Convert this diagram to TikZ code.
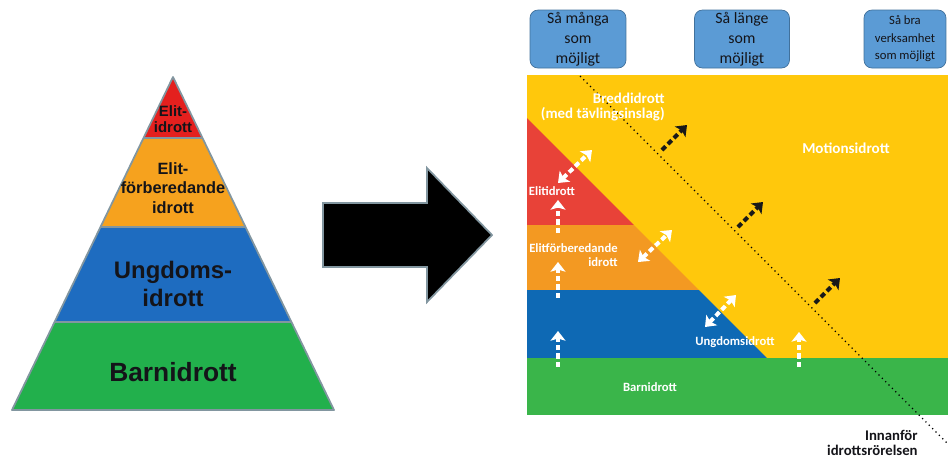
\documentclass[tikz,border=0pt]{standalone}
\usepackage{fontspec}
\setmainfont{Carlito}
\newfontfamily\arialfont{Liberation Sans}
\usetikzlibrary{arrows.meta,positioning}

\definecolor{pyrred}{RGB}{228,32,30}
\definecolor{pyrorange}{RGB}{246,162,30}
\definecolor{pyrblue}{RGB}{30,108,192}
\definecolor{pyrgreen}{RGB}{34,176,76}
\definecolor{pyrline}{RGB}{130,150,160}
\definecolor{pyrink}{RGB}{20,20,25}
\definecolor{elred}{RGB}{232,66,56}
\definecolor{elorange}{RGB}{243,153,34}
\definecolor{elblue}{RGB}{14,105,180}
\definecolor{elgreen}{RGB}{58,181,74}
\definecolor{elyellow}{RGB}{255,200,12}
\definecolor{goalfill}{RGB}{91,155,213}
\definecolor{goalline}{RGB}{65,113,156}

\tikzset{
  pyrtext/.style={font=\arialfont\bfseries, text=pyrink, align=center, inner sep=0},
  goalbox/.style={draw=goalline, fill=goalfill, rounded corners=0.16cm, inner sep=0,
    minimum height=1.16cm, align=center, text=pyrink},
  whitelbl/.style={font=\bfseries\fontsize{7.2}{8.4}\selectfont, text=white, inner sep=0},
  uparrow/.style={draw=white, line width=2.3pt, dash pattern=on 3pt off 1.8pt,
    -{Stealth[length=5.5pt,width=8.5pt,inset=1.2pt]}},
  twoarrow/.style={draw=white, line width=2.3pt, dash pattern=on 3pt off 1.8pt,
    {Stealth[length=5.5pt,width=8.5pt,inset=1.2pt]}-{Stealth[length=5.5pt,width=8.5pt,inset=1.2pt]}},
  outarrow/.style={draw=black!90, line width=2.3pt, dash pattern=on 3pt off 1.8pt,
    -{Stealth[length=5.5pt,width=8.5pt,inset=1.2pt]}}
}

\begin{document}
\begin{tikzpicture}[x=0.02cm,y=-0.02cm]
\useasboundingbox (0,0) rectangle (948,458);

% pyramid
\coordinate (apex) at (173,77);
\coordinate (bl) at (12,410);
\coordinate (br) at (334,410);
\begin{scope}
  \clip (apex) -- (bl) -- (br) -- cycle;
  \fill[pyrred] (0,70) rectangle (350,138);
  \fill[pyrorange] (0,138) rectangle (350,227);
  \fill[pyrblue] (0,227) rectangle (350,322);
  \fill[pyrgreen] (0,322) rectangle (350,412);
  \draw[pyrline, line width=1pt] (0,138) -- (350,138) (0,227) -- (350,227) (0,322) -- (350,322);
\end{scope}
\draw[pyrline, line width=1pt, line join=round] (apex) -- (bl) -- (br) -- cycle;

\node[pyrtext, font=\arialfont\bfseries\fontsize{8.5}{9.5}\selectfont] (toptext) at (173,119) {Elit-\\idrott};
\node[pyrtext, font=\arialfont\bfseries\fontsize{9.3}{11}\selectfont] (elitforbtext) at (173,188) {Elit-\\förberedande\\idrott};
\node[pyrtext, font=\arialfont\bfseries\fontsize{13.6}{15.9}\selectfont] (ungtext) at (173,284) {Ungdoms-\\idrott};
\node[pyrtext, font=\arialfont\bfseries\fontsize{15}{17}\selectfont] (barntext) at (173,372) {Barnidrott};

% big arrow
\draw[fill=black, draw=pyrline, line width=1pt]
  (323,203) -- (427,203) -- (427,168) -- (492,235) -- (427,302) -- (427,267) -- (323,267) -- cycle;

% goal boxes
\node[goalbox, minimum width=1.92cm, font=\fontsize{9}{11.3}\selectfont] (many) at (578,39) {Så många\\som\\möjligt};
\node[goalbox, minimum width=1.90cm, font=\fontsize{9}{11.3}\selectfont] (long) at (742,39) {Så länge\\som\\möjligt};
\node[goalbox, minimum width=1.64cm, font=\fontsize{7.2}{10}\selectfont] (good) at (905,39) {Så bra\\verksamhet\\som möjligt};

% levels
\fill[elyellow] (527,75) rectangle (948,415);
\begin{scope}
  \clip (527,118) -- (527,358) -- (767,358) -- cycle;
  \fill[elred] (520,110) rectangle (780,225);
  \fill[elorange] (520,225) rectangle (780,290);
  \fill[elblue] (520,290) rectangle (780,358);
\end{scope}
\fill[elgreen] (527,358) rectangle (948,415);

% border of the movement
\coordinate (dtop) at (580,76);
\coordinate (dbot) at (948,444);
\draw[black, line width=0.7pt, dotted] (dtop) -- (dbot);

\node[whitelbl, font=\bfseries\fontsize{8.5}{8.6}\selectfont, align=right, anchor=east] (bredd) at (665,107) {Breddidrott\\(med tävlingsinslag)};
\node[whitelbl, font=\bfseries\fontsize{8.6}{9}\selectfont] (motion) at (846,148) {Motionsidrott};
\node[whitelbl] (elit) at (552,191) {Elitidrott};
\node[whitelbl, align=right, anchor=east] (elitforb) at (618,255) {Elitförberedande\\idrott};
\node[whitelbl] (ungdom) at (735,342) {Ungdomsidrott};
\node[whitelbl] (barn) at (650,387) {Barnidrott};
\node[font=\bfseries\fontsize{8.4}{8.2}\selectfont, text=pyrink, align=right, anchor=east, inner sep=0] (innan) at (918,443) {Innanför\\idrottsrörelsen};

% arrow ends
\coordinate (u1a) at (558,233); \coordinate (u1b) at (558,200);
\coordinate (u2a) at (558,298); \coordinate (u2b) at (558,262);
\coordinate (u3a) at (558,367); \coordinate (u3b) at (558,331);
\coordinate (u4a) at (799,367); \coordinate (u4b) at (799,332);
\coordinate (t1a) at (558,183); \coordinate (t1b) at (592,150);
\coordinate (t2a) at (638,262); \coordinate (t2b) at (672,230);
\coordinate (t3a) at (705,327); \coordinate (t3b) at (736,295);
\coordinate (o1a) at (662,150); \coordinate (o1b) at (687,125);
\coordinate (o2a) at (738,227); \coordinate (o2b) at (763,202);
\coordinate (o3a) at (815,303); \coordinate (o3b) at (840,278);

\draw[uparrow] (u1a) -- (u1b);
\draw[uparrow] (u2a) -- (u2b);
\draw[uparrow] (u3a) -- (u3b);
\draw[uparrow] (u4a) -- (u4b);
\draw[twoarrow] (t1a) -- (t1b);
\draw[twoarrow] (t2a) -- (t2b);
\draw[twoarrow] (t3a) -- (t3b);
\draw[outarrow] (o1a) -- (o1b);
\draw[outarrow] (o2a) -- (o2b);
\draw[outarrow] (o3a) -- (o3b);
\end{tikzpicture}
\end{document}
